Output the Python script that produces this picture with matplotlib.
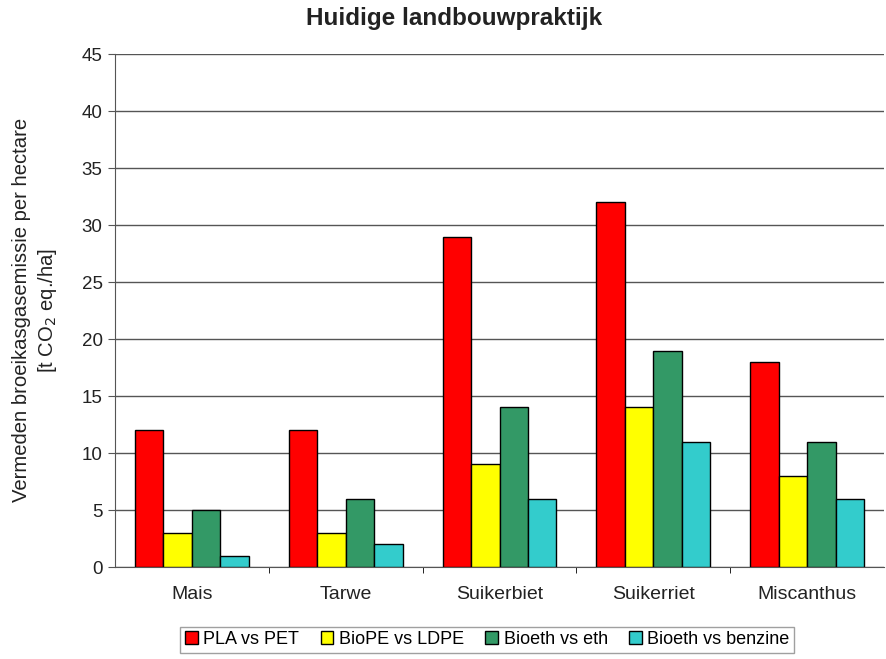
import matplotlib
matplotlib.use('Agg')
import matplotlib.pyplot as plt
import numpy as np

plt.rcParams['font.family'] = ['Liberation Sans', 'DejaVu Sans']

gewassen = ['Mais', 'Tarwe', 'Suikerbiet', 'Suikerriet', 'Miscanthus']
series = ['PLA vs PET', 'BioPE vs LDPE', 'Bioeth vs eth', 'Bioeth vs benzine']
pla_pet = [12, 12, 29, 32, 18]
biope_ldpe = [3, 3, 9, 14, 8]
bioeth_eth = [5, 6, 14, 19, 11]
bioeth_benzine = [1, 2, 6, 11, 6]
kleuren = ['#FF0000', '#FFFF00', '#339966', '#33CCCC']

fig = plt.figure(figsize=(8.86, 6.59), dpi=100)
ax = fig.add_axes([0.1298, 0.1396, 0.868, 0.778])

x = np.arange(len(gewassen))
w = 0.185
for i, (vals, naam) in enumerate(zip([pla_pet, biope_ldpe, bioeth_eth, bioeth_benzine], series)):
    ax.bar(x + (i - 1.5) * w, vals, w, color=kleuren[i], edgecolor='black', linewidth=1.0,
           label=naam, zorder=3)

ax.set_xlim(-0.5, len(gewassen) - 0.5)
ax.set_ylim(0, 45)
ax.set_yticks(range(0, 46, 5))
ax.yaxis.grid(True, color='#555555', linewidth=1.0, zorder=0)
ax.set_xticks(x)
ax.set_xticklabels(gewassen, fontsize=14, color='#222222')
ax.set_xticks(np.arange(0.5, len(gewassen) - 0.5, 1), minor=True)
ax.tick_params(axis='x', which='major', length=0, pad=14)
ax.tick_params(axis='x', which='minor', length=4, direction='out')
ax.tick_params(axis='y', labelsize=13.5, labelcolor='#222222', length=5, direction='out',
               color='#555555', pad=4)
for s in ['top', 'right']:
    ax.spines[s].set_visible(False)
ax.spines['left'].set_color('#555555')
ax.spines['bottom'].set_color('#555555')

fig.text(0.04, 0.529, 'Vermeden broeikasgasemissie per hectare\n[t CO$_2$ eq./ha]',
         fontsize=14.6, color='#222222', rotation=90, ha='center', va='center',
         linespacing=1.25)
fig.text(0.512, 0.972, 'Huidige landbouwpraktijk', fontsize=17.5, fontweight='bold',
         color='#222222', ha='center', va='center')

fig.legend(loc='lower center', bbox_to_anchor=(0.55, -0.004), ncol=4, fontsize=13,
           frameon=True, fancybox=False, edgecolor='#888888', handlelength=0.7,
           handleheight=0.7, handletextpad=0.3, columnspacing=1.2, borderpad=0.25)

fig.savefig('out.png', dpi=100)
